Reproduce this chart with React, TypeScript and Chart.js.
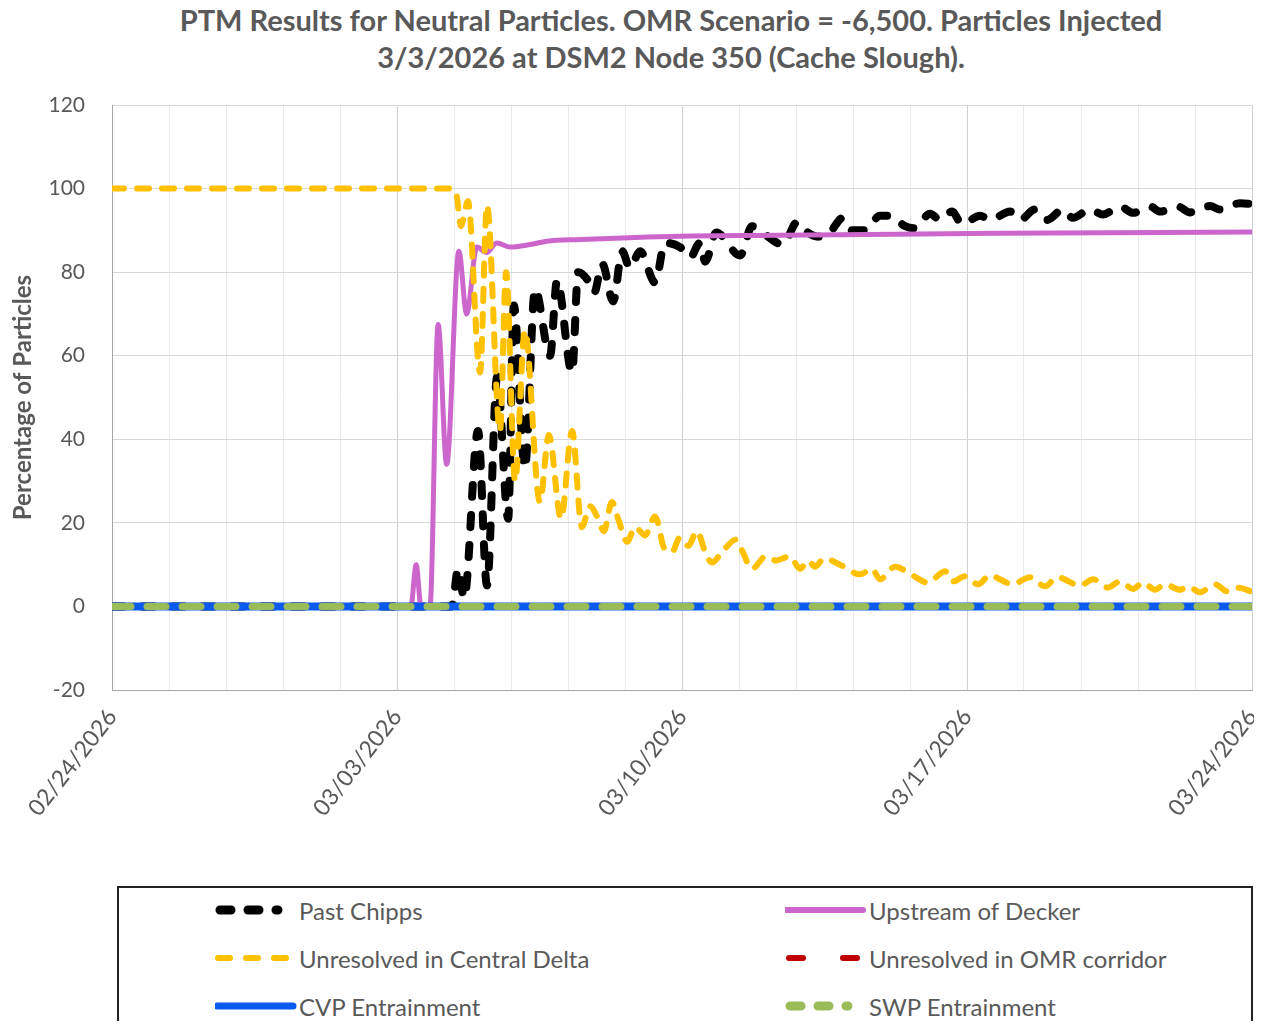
import React, { useEffect, useRef } from 'react';
import { Chart, registerables } from 'chart.js';

Chart.register(...registerables);

// ---- Data (x = days after 02/24/2026 00:00, y = % of particles) ----
const xTickLabels = ['02/24/2026', '03/03/2026', '03/10/2026', '03/17/2026', '03/24/2026'];

const chippsDays = [0, 8.35, 8.5, 8.65, 8.99, 9.21, 9.46, 9.73, 9.87, 10.14, 10.39, 10.76, 10.93, 11.3, 11.45, 11.69, 11.84, 12.04, 12.31, 12.53, 12.72, 12.97, 13.34, 13.58, 13.95, 14.2, 14.44, 14.57, 14.84, 15.43, 15.72, 15.97, 16.48, 16.83, 17.02, 17.34, 17.59, 17.95, 18.18, 18.5, 18.86, 19.11, 19.48, 19.72, 20.09, 20.34, 20.63, 20.88, 21.32, 21.57, 22.06, 22.3, 22.67, 22.97, 23.36, 23.6, 24.02, 24.34, 24.76, 25.08, 25.5, 25.74, 26.18, 26.48, 26.97, 27.21, 27.71, 28];
const chippsPct = [0, 0, 9, 2, 42, 5, 55, 21, 72, 33, 76, 60, 78, 56, 80, 78, 75, 82, 73, 85, 81, 85, 77.5, 87, 86, 83.5, 87, 82.5, 89.5, 84, 91, 89.5, 86.6, 92, 90, 88.5, 89, 93, 90, 90, 93.5, 93.5, 91, 90.5, 94, 92.5, 94.5, 91.5, 93.5, 92.5, 94.5, 92.5, 95, 92.5, 95, 93, 95, 93.8, 95.7, 94.2, 95.7, 94.5, 95.7, 94.3, 95.8, 95, 96.5, 96.3];

const deckerDays = [0, 7.34, 7.47, 7.59, 7.81, 8.01, 8.22, 8.52, 8.71, 8.96, 9.2, 9.45, 9.78, 10.27, 10.68, 11.5, 13.95, 16.41, 21.81, 28];
const deckerPct = [0, 0, 10, 0, 0, 67.5, 34, 85, 70, 86, 84.7, 87, 86, 86.6, 87.4, 87.8, 88.6, 88.8, 89.3, 89.6];

const centralDays = [0, 8.35, 8.47, 8.57, 8.74, 9.04, 9.21, 9.53, 9.68, 9.9, 10.14, 10.51, 10.73, 11.03, 11.3, 11.54, 11.74, 11.94, 12.08, 12.28, 12.43, 12.65, 12.85, 13.09, 13.34, 13.56, 13.75, 13.95, 14.15, 14.37, 14.57, 14.74, 14.98, 15.33, 15.47, 15.72, 16.06, 16.31, 16.65, 16.9, 17.1, 17.27, 17.49, 17.88, 18.37, 18.67, 18.86, 19.23, 19.65, 20.04, 20.46, 20.66, 20.95, 21.27, 21.57, 21.81, 22.11, 22.55, 22.92, 23.21, 23.78, 24.1, 24.46, 24.76, 25.08, 25.32, 25.62, 25.86, 26.23, 26.43, 26.72, 27.09, 27.39, 27.66, 28];
const centralPct = [100, 100, 98, 91, 97, 56, 96, 42, 80, 30, 66, 25, 41, 21, 42, 19, 24, 21, 18, 25, 21, 15.5, 19, 17, 21.5, 14, 13, 16.5, 14.5, 18, 13, 10.5, 13, 16, 13.5, 9, 12, 11, 12, 9, 11, 9.5, 11.5, 10, 7.7, 9, 6.5, 9.5, 7.5, 5.7, 8.4, 6, 7.2, 5.3, 7.5, 6.5, 5.3, 7, 4.8, 7, 5, 6.5, 4.5, 6, 4.2, 5.7, 4, 5.3, 4, 4.8, 3.4, 5.3, 3.6, 4.5, 3.5];

const flatDays = [0, 28];
const omrPct = [0, 0];
const cvpPct = [0, 0];
const swpPct = [0, 0];

const seriesNames = ['Past Chipps', 'Upstream of Decker', 'Unresolved in Central Delta', 'Unresolved in OMR corridor', 'CVP Entrainment', 'SWP Entrainment'];

const COLORS = {
  chipps: '#000000',
  decker: '#CC66CC',
  central: '#FFC000',
  omr: '#C00000',
  cvp: '#0A5AF0',
  swp: '#9BBB59',
};

const FONT = 'Lato, "Open Sans", "DejaVu Sans", sans-serif';
const TEXT = '#595959';

const pts = (xs: number[], ys: number[]) => xs.map((x, i) => ({ x, y: ys[i] }));

function LegendSample({ kind }: { kind: string }) {
  const w = 82;
  const h = 14;
  const y = 7;
  let el: React.ReactNode = null;
  if (kind === 'chipps') {
    el = <line x1={5} y1={y} x2={63} y2={y} stroke={COLORS.chipps} strokeWidth={9} strokeLinecap="round" strokeDasharray="11 17" />;
  } else if (kind === 'decker') {
    el = <line x1={0} y1={y} x2={78} y2={y} stroke={COLORS.decker} strokeWidth={6} strokeLinecap="round" />;
  } else if (kind === 'central') {
    el = <line x1={3} y1={y} x2={72} y2={y} stroke={COLORS.central} strokeWidth={6} strokeLinecap="round" strokeDasharray="12 16" />;
  } else if (kind === 'omr') {
    el = <line x1={4} y1={y} x2={76} y2={y} stroke={COLORS.omr} strokeWidth={6} strokeLinecap="round" strokeDasharray="14 40" />;
  } else if (kind === 'cvp') {
    el = <line x1={2} y1={y} x2={78} y2={y} stroke={COLORS.cvp} strokeWidth={7} strokeLinecap="round" />;
  } else if (kind === 'swp') {
    el = <line x1={5} y1={y} x2={63} y2={y} stroke={COLORS.swp} strokeWidth={9} strokeLinecap="round" strokeDasharray="11 17" />;
  }
  return (
    <svg width={w} height={h} style={{ display: 'block', flex: '0 0 auto' }}>
      {el}
    </svg>
  );
}

export default function App() {
  const canvasRef = useRef<HTMLCanvasElement | null>(null);

  useEffect(() => {
    const canvas = canvasRef.current;
    if (!canvas) return;
    const n = 6;
    const chart = new Chart(canvas, {
      type: 'line',
      data: {
        datasets: [
          {
            label: seriesNames[0],
            data: pts(chippsDays, chippsPct),
            borderColor: COLORS.chipps,
            borderWidth: 8,
            borderDash: [12, 18],
            borderCapStyle: 'round',
            borderJoinStyle: 'round',
            cubicInterpolationMode: 'monotone',
            pointRadius: 0,
            order: n - 0,
          },
          {
            label: seriesNames[1],
            data: pts(deckerDays, deckerPct),
            borderColor: COLORS.decker,
            borderWidth: 5,
            borderCapStyle: 'round',
            borderJoinStyle: 'round',
            cubicInterpolationMode: 'monotone',
            pointRadius: 0,
            order: n - 1,
          },
          {
            label: seriesNames[2],
            data: pts(centralDays, centralPct),
            borderColor: COLORS.central,
            borderWidth: 6,
            borderDash: [12, 13],
            borderCapStyle: 'round',
            borderJoinStyle: 'round',
            cubicInterpolationMode: 'monotone',
            pointRadius: 0,
            order: n - 2,
          },
          {
            label: seriesNames[3],
            data: pts(flatDays, omrPct),
            borderColor: COLORS.omr,
            borderWidth: 6,
            borderDash: [16, 30],
            borderCapStyle: 'round',
            pointRadius: 0,
            order: n - 3,
          },
          {
            label: seriesNames[4],
            data: pts(flatDays, cvpPct),
            borderColor: COLORS.cvp,
            borderWidth: 8,
            pointRadius: 0,
            order: n - 4,
          },
          {
            label: seriesNames[5],
            data: pts(flatDays, swpPct),
            borderColor: COLORS.swp,
            borderWidth: 7,
            borderDash: [19, 16],
            borderCapStyle: 'round',
            pointRadius: 0,
            order: n - 5,
          },
        ],
      },
      options: {
        animation: false,
        responsive: false,
        devicePixelRatio: 1,
        layout: { padding: { top: 97, right: 2, left: 0, bottom: 0 } },
        plugins: {
          legend: { display: false },
          title: { display: false },
          tooltip: { enabled: false },
        },
        scales: {
          x: {
            type: 'linear',
            min: 0,
            max: 28,
            afterFit: (scale: any) => {
              scale.height = 188;
              scale.paddingLeft = 0;
              scale.paddingRight = 0;
            },
            ticks: {
              stepSize: 1.4,
              autoSkip: false,
              minRotation: 52,
              maxRotation: 52,
              padding: 14,
              color: TEXT,
              font: { family: FONT, size: 23 },
              callback: (v: any) => {
                const k = Number(v) / 7;
                const r = Math.round(k);
                return Math.abs(k - r) < 1e-6 ? xTickLabels[r] : '';
              },
            },
            grid: {
              drawTicks: false,
              color: (ctx: any) => {
                const v = ctx.tick ? ctx.tick.value : 0;
                const k = v / 7;
                return Math.abs(k - Math.round(k)) < 1e-6 ? '#D0D0D0' : '#E9E9E9';
              },
              lineWidth: 1,
            },
            border: { display: true, color: '#A6A6A6', width: 1 },
          },
          y: {
            type: 'linear',
            min: -20,
            max: 120,
            afterFit: (scale: any) => {
              scale.width = 104;
              scale.paddingTop = 0;
              scale.paddingBottom = 0;
            },
            ticks: {
              stepSize: 20,
              padding: 27,
              color: TEXT,
              font: { family: FONT, size: 21 },
            },
            grid: {
              drawTicks: false,
              color: '#D9D9D9',
              lineWidth: 1,
            },
            border: { display: true, color: '#A6A6A6', width: 1 },
            title: {
              display: true,
              text: 'Percentage of Particles',
              color: TEXT,
              font: { family: FONT, size: 24, weight: 'bold' },
              padding: { top: 1, bottom: 0 },
            },
          },
        },
      },
    });
    return () => {
      chart.destroy();
    };
  }, []);

  const legendItems = [
    { kind: 'chipps', name: seriesNames[0], left: 207, top: 902 },
    { kind: 'decker', name: seriesNames[1], left: 777, top: 902 },
    { kind: 'central', name: seriesNames[2], left: 207, top: 950 },
    { kind: 'omr', name: seriesNames[3], left: 777, top: 950 },
    { kind: 'cvp', name: seriesNames[4], left: 207, top: 998 },
    { kind: 'swp', name: seriesNames[5], left: 777, top: 998 },
  ];

  return (
    <div
      style={{
        position: 'relative',
        width: 1246,
        height: 1013,
        overflow: 'hidden',
        fontFamily: FONT,
        background: '#FFFFFF',
      }}
    >
      <div
        style={{
          position: 'absolute',
          left: 663,
          top: -7,
          transform: 'translateX(-50%)',
          whiteSpace: 'nowrap',
          textAlign: 'center',
          fontSize: 29,
          lineHeight: '37px',
          fontWeight: 700,
          color: TEXT,
        }}
      >
        <div>PTM Results for Neutral Particles. OMR Scenario = -6,500. Particles Injected</div>
        <div>3/3/2026 at DSM2 Node 350 (Cache Slough).</div>
      </div>
      <canvas
        ref={canvasRef}
        width={1246}
        height={870}
        style={{ position: 'absolute', left: 0, top: 0, width: 1246, height: 870 }}
      />
      <div
        style={{
          position: 'absolute',
          left: 109,
          top: 878,
          width: 1136,
          height: 200,
          border: '2px solid #222222',
          boxSizing: 'border-box',
        }}
      />
      {legendItems.map((it) => (
        <div
          key={it.kind}
          style={{
            position: 'absolute',
            left: it.left,
            top: it.top - 15,
            height: 30,
            display: 'flex',
            alignItems: 'center',
            whiteSpace: 'nowrap',
          }}
        >
          <LegendSample kind={it.kind} />
          <span style={{ fontSize: 24, color: TEXT, marginLeft: 2 }}>{it.name}</span>
        </div>
      ))}
    </div>
  );
}
